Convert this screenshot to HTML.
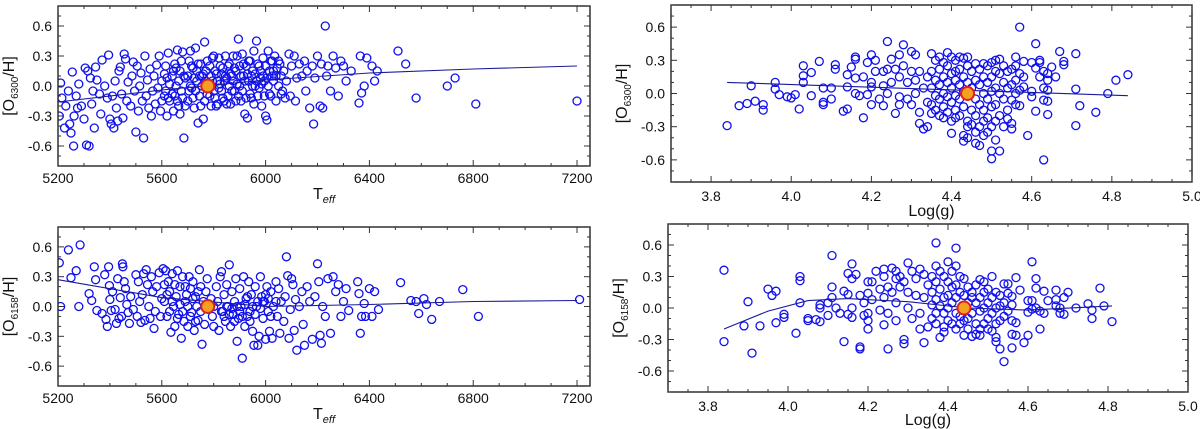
<!DOCTYPE html>
<html><head><meta charset="utf-8"><style>
html,body{margin:0;padding:0;background:#fff;}
svg{display:block;font-family:"Liberation Sans",sans-serif;}
</style></head><body>
<svg id="fig" width="1200" height="429" viewBox="0 0 1200 429" xmlns="http://www.w3.org/2000/svg"></svg>
<script>
// ---- data: rows are [x, y1, y2, ...] ----
const tlData=[[5205,-0.3],[5210,0.03],[5215,-0.12],[5225,-0.42],[5230,-0.2],[5240,-0.05],[5245,-0.38],[5250,-0.47],[5255,0.14],[5260,-0.6],[5262,-0.3],[5270,-0.1],[5275,-0.22],[5280,0.02],[5290,-0.2],[5300,-0.33],[5305,0.18],[5310,-0.59],[5315,0.15],[5320,-0.6],[5325,0.08],[5330,-0.18],[5335,-0.05],[5340,-0.42],[5345,0.19],[5350,0.06],[5360,-0.08],[5365,-0.28],[5370,0.26],[5380,0.0],[5390,-0.12],[5395,0.31],[5400,-0.33],[5405,-0.38],[5410,-0.1],[5415,-0.42],[5420,0.05],[5425,-0.22],[5430,-0.35],[5435,0.15],[5440,0.19],[5445,-0.08],[5450,-0.32],[5455,0.32],[5460,0.27],[5465,-0.15],[5470,0.04],[5480,-0.2],[5485,0.1],[5490,0.24],[5495,-0.05],[5500,-0.46],[5505,0.2],[5510,-0.25],[5515,0.0],[5520,0.13],[5525,-0.15],[5530,-0.52],[5535,0.3],[5540,-0.1],[5545,0.06],[5550,-0.22],[5555,0.17],[5560,-0.3],[5565,-0.05],[5570,0.1],[5575,-0.18],[5580,0.21],[5585,-0.02],[5590,0.3],[5595,-0.25],[5600,0.05,-0.15],[5610,-0.1,0.12],[5615,0.2,-0.05],[5620,-0.3,0.08],[5625,0.33,-0.12],[5630,-0.15,0.02],[5640,0.1,-0.08],[5645,-0.25,0.15],[5650,0.22,-0.1],[5655,0.0,0.18],[5660,0.36,-0.15],[5665,-0.2,0.05],[5670,0.15,-0.28],[5675,-0.05,0.25],[5680,0.34,-0.12],[5685,-0.52,0.1],[5690,0.08,-0.2],[5700,-0.15,0.1],[5705,0.25,-0.05],[5710,0.35,0.0],[5715,-0.02,0.2],[5720,0.18,-0.12],[5725,-0.22,0.08],[5730,0.38,-0.05],[5735,0.05,0.15],[5740,-0.37,0.22],[5745,-0.1,0.1],[5750,0.22,-0.2],[5755,0.1,0.0],[5760,-0.33,0.12],[5765,0.44,-0.15],[5770,0.15,0.05],[5775,-0.08,0.25],[5785,0.2,-0.1],[5790,-0.2,0.1],[5795,0.05,0.28],[5800,0.3,-0.05],[5805,-0.12,0.15],[5810,0.12,-0.2],[5815,-0.18,0.05],[5820,0.28,-0.02],[5825,0.02,0.2],[5830,-0.05,0.12],[5835,0.18,-0.12],[5840,-0.15,0.05],[5845,0.3,0.1],[5850,0.08,-0.18],[5855,-0.1,0.2],[5860,0.22,0.0],[5865,-0.18,0.12],[5870,0.1,-0.05],[5875,0.3,0.05],[5880,-0.05,0.18],[5885,0.15,-0.15],[5890,0.3,0.02],[5895,0.47,-0.1],[5900,0.0,0.2],[5905,-0.15,0.1],[5910,0.32,-0.05],[5915,0.1,0.22],[5920,-0.28,0.05],[5925,0.2,-0.12],[5930,-0.32,0.12],[5935,0.05,0.25],[5940,0.25,-0.08],[5945,-0.12,0.1],[5950,0.15,0.0],[5955,0.35,-0.18],[5960,0.0,0.12],[5965,0.45,0.05],[5970,-0.1,0.22],[5975,0.2,-0.02],[5980,0.08,0.15],[5985,-0.2,0.02],[5990,0.28,0.1],[5995,0.05,-0.1],[6000,-0.3,0.2],[6005,-0.34,0.08],[6010,0.35,0.0],[6015,0.15,-0.08],[6020,-0.1,0.25],[6025,0.25,0.1],[6030,0.05,0.15],[6035,0.3],[6040,-0.15,0.1],[6045,0.18],[6050,0.0,0.25],[6055,0.22],[6060,0.1,-0.08],[6065,-0.05],[6070,0.15],[6075,-0.12],[6080,0.05],[6090,0.32],[6095,-0.1],[6100,0.2],[6110,0.3],[6115,-0.15],[6120,0.08],[6130,0.22],[6140,0.1],[6150,0.25],[6155,-0.05],[6160,0.15],[6170,-0.22],[6180,0.2],[6185,-0.38],[6190,0.08],[6200,0.3],[6210,-0.2],[6215,0.22],[6220,-0.22],[6230,0.6],[6235,0.1],[6240,0.2],[6250,-0.05],[6260,0.3],[6270,0.18],[6280,-0.1],[6290,0.25],[6300,0.2],[6310,0.05],[6330,0.15],[6360,-0.17],[6365,0.3],[6370,-0.07],[6380,0.0],[6390,0.28],[6410,0.2],[6420,0.05],[6430,0.15],[6510,0.35],[6540,0.22],[6580,-0.12],[6700,0.0],[6730,0.08],[6810,-0.18],[7200,-0.15]];
const trData=[[3.84,-0.29],[3.87,-0.11],[3.89,-0.09],[3.90,0.07],[3.91,-0.07],[3.93,-0.1,-0.15],[3.96,0.1,0.04],[3.97,-0.01],[3.99,-0.03],[4.0,-0.04],[4.01,-0.01],[4.02,-0.14],[4.03,0.25,0.16,0.1],[4.05,0.19,-0.02],[4.07,0.29],[4.08,0.05,-0.08,-0.1],[4.10,0.05,-0.05],[4.11,0.26,0.22],[4.13,-0.16],[4.14,0.17,-0.14,0.06],[4.15,0.24],[4.16,0.33,0.31,0.14,0.0],[4.17,-0.02],[4.18,0.15,-0.22],[4.19,0.28,-0.01],[4.20,0.35,0.1,0.06,-0.1],[4.21,0.3,0.2],[4.22,-0.05],[4.23,0.2,0.07,-0.11],[4.24,0.47,0.22,0.0],[4.25,0.31,0.1],[4.26,-0.18,0.22],[4.27,0.35,0.15,-0.03,-0.1],[4.28,0.44,0.25],[4.29,0.1,-0.05],[4.30,0.38,0.2,-0.1],[4.31,0.35,0.12,0.0],[4.32,-0.27,-0.17,0.2],[4.33,0.05,-0.32],[4.34,-0.3,0.15,-0.08],[4.35,0.36,0.2,0.05,-0.1,-0.18],[4.36,0.3,0.12,-0.02,-0.15],[4.37,0.33,0.22,0.08,-0.05,-0.2],[4.38,0.28,0.15,0.0,-0.12,-0.22],[4.39,0.37,0.25,0.1,-0.03,-0.17],[4.40,0.33,0.18,0.05,-0.08,-0.25,-0.36],[4.41,0.3,0.2,0.12,-0.02,-0.15,-0.22],[4.42,0.33,0.22,0.08,-0.05,-0.2],[4.43,0.32,0.15,0.02,-0.12,-0.38,-0.43],[4.44,0.33,0.25,0.1,-0.25,-0.3,-0.4],[4.45,0.2,0.05,-0.15,-0.28],[4.46,0.27,0.12,-0.05,-0.2,-0.35,-0.45],[4.47,0.22,0.08,-0.1,-0.3,-0.47],[4.48,0.27,0.15,0.0,-0.15,-0.25,-0.38],[4.49,0.25,0.1,-0.05,-0.22,-0.35],[4.50,0.28,0.15,0.02,-0.12,-0.3,-0.52,-0.59],[4.51,0.3,0.2,0.05,-0.1,-0.25,-0.42],[4.52,0.31,0.18,0.0,-0.2,-0.52],[4.53,0.25,0.1,-0.05,-0.3],[4.54,0.2,0.05,-0.15,-0.23],[4.55,0.22,0.08,-0.06,-0.27,-0.32],[4.56,0.33,0.25,0.12,0.0,-0.1],[4.57,0.6,0.18,0.03,-0.11],[4.58,0.29,0.15,0.06],[4.59,-0.38],[4.60,0.28,0.02,-0.03],[4.61,0.45,0.23,-0.16],[4.62,0.3,0.15,0.28],[4.63,0.2,0.05,-0.06,-0.6],[4.64,0.18,0.12,0.03,-0.07,-0.19],[4.65,0.24],[4.66,0.15],[4.67,0.38],[4.68,0.29,0.26],[4.71,0.36,0.04,-0.29],[4.72,-0.11],[4.76,-0.17],[4.79,0.0],[4.81,0.12],[4.84,0.17]];
const blData=[[5205,0.44],[5210,0.0],[5240,0.57],[5250,0.29],[5270,0.36],[5280,0.0],[5285,0.62],[5320,0.13],[5330,0.06],[5340,0.4],[5345,0.27],[5350,-0.04],[5370,-0.07],[5380,0.32],[5385,-0.13],[5390,-0.2],[5395,0.4],[5398,0.21],[5400,0.07],[5405,-0.04],[5410,0.15],[5420,-0.03],[5425,-0.17],[5430,0.28],[5435,-0.12],[5440,0.09],[5445,-0.1],[5448,0.43],[5450,0.4],[5455,0.25],[5460,0.18],[5465,0.02],[5470,-0.06],[5475,-0.17],[5480,0.1],[5490,-0.03],[5500,0.32],[5505,-0.1],[5510,0.25],[5515,0.05],[5520,-0.16],[5525,0.12],[5530,0.33],[5535,-0.14],[5540,0.37],[5545,0.22],[5550,0.0],[5555,-0.12],[5560,0.3],[5565,0.15],[5570,-0.22],[5575,-0.05],[5580,0.2],[5590,0.34],[5595,-0.1],[5600,0.08],[5605,0.38],[5610,0.05,0.22],[5615,0.36],[5620,-0.1,0.12],[5625,0.25],[5630,0.15,-0.05],[5635,-0.26],[5640,0.33,0.05],[5645,0.0],[5650,-0.2,0.22],[5655,0.1],[5660,0.36,-0.12],[5665,-0.08],[5670,0.2,0.02],[5675,-0.32],[5680,0.3,-0.05],[5685,-0.15],[5690,0.05,0.2],[5695,0.12],[5700,-0.2,0.0],[5705,0.3],[5710,0.18,-0.1],[5715,-0.06],[5720,0.25,0.08],[5725,-0.24],[5730,0.1,-0.15],[5735,0.0],[5740,-0.14,0.15],[5745,0.37],[5750,0.2,-0.05],[5755,-0.38],[5760,0.05],[5765,-0.18],[5770,0.15],[5775,0.28],[5790,0.08],[5795,-0.1],[5800,-0.2,0.0],[5810,0.2],[5815,0.05],[5820,-0.24],[5825,0.3],[5830,0.35,-0.05],[5835,-0.05],[5840,0.12,-0.1],[5845,-0.15],[5850,0.22,0.0],[5855,0.0],[5860,0.42,-0.08],[5865,-0.2],[5870,0.15,-0.02],[5875,-0.08],[5880,0.05,-0.15],[5885,0.28],[5890,-0.35,0.0],[5895,-0.12],[5900,0.18,-0.05],[5905,0.0],[5910,-0.52,-0.1],[5915,0.3],[5920,-0.2,0.02],[5925,0.08],[5930,-0.1,0.1],[5935,0.25],[5940,-0.05,-0.15],[5945,0.12],[5950,-0.25,0.0],[5955,-0.39],[5960,0.2,-0.08],[5965,0.0],[5970,-0.39,0.05],[5975,-0.3],[5980,0.3,-0.02],[5985,0.1],[5990,-0.12,0.05],[5995,0.05],[6000,-0.33,0.12],[6005,0.2],[6010,-0.05,0.08],[6015,-0.25],[6020,0.15,-0.1],[6025,-0.32],[6030,0.0],[6040,0.25,0.05],[6045,-0.1],[6050,0.18],[6055,-0.27],[6060,0.05],[6070,-0.15],[6075,0.1],[6080,0.5],[6085,0.31],[6090,-0.32],[6095,-0.03],[6100,0.28],[6105,0.22],[6110,-0.24],[6115,0.07],[6120,-0.44],[6130,0.0],[6140,0.15],[6145,-0.18],[6150,-0.39],[6160,0.2],[6170,0.05],[6180,-0.33],[6190,0.1],[6200,0.43],[6205,0.25],[6210,-0.29],[6215,-0.37],[6220,0.0],[6230,-0.1],[6240,0.28],[6250,-0.27],[6260,0.3],[6270,0.15],[6280,0.22],[6290,-0.1],[6300,0.05],[6310,0.18],[6320,-0.04],[6355,0.25],[6360,0.13],[6365,-0.27],[6370,-0.1],[6380,0.03],[6385,-0.1],[6400,0.18],[6410,-0.1],[6420,0.15],[6435,-0.03],[6520,0.24],[6560,0.06],[6580,0.05],[6590,-0.07],[6610,0.08],[6620,0.02],[6640,-0.13],[6670,0.05],[6760,0.17],[6820,-0.1],[7210,0.07]];
const brData=[[3.84,0.36,-0.32],[3.89,-0.17],[3.90,0.06],[3.91,-0.43],[3.93,-0.17],[3.95,0.18],[3.96,0.12],[3.97,0.16,-0.14],[3.99,-0.06,-0.09],[4.02,-0.24],[4.03,0.3,0.26,0.05],[4.05,-0.1,-0.12],[4.07,-0.11],[4.08,0.03,-0.13,0.0],[4.10,0.05,-0.07],[4.11,0.5,0.2,0.1],[4.12,0.0],[4.13,-0.05],[4.14,0.16,-0.32],[4.15,0.33,0.13,-0.06],[4.16,0.42,0.28,0.0,-0.09],[4.17,0.32],[4.18,-0.37,-0.39,0.12],[4.19,0.05,-0.07],[4.20,0.25,0.14,-0.05,-0.12,-0.2],[4.21,0.25,0.08],[4.22,0.35],[4.23,0.18,-0.02],[4.24,0.37,0.3,0.1,-0.16],[4.25,0.2,-0.39,-0.05],[4.26,0.38,0.15],[4.27,0.35,0.28,0.05,-0.12],[4.28,0.3,0.2],[4.29,0.25,-0.3,-0.34],[4.30,0.43,0.15,0.0],[4.31,0.35,-0.1],[4.32,0.28,0.12],[4.33,0.37,-0.05,-0.2],[4.34,0.32,0.1,-0.33],[4.35,0.22,-0.18],[4.36,0.3,0.15,0.03,-0.1],[4.37,0.62,0.4,0.25,0.08,-0.05,-0.15],[4.38,0.35,0.18,0.02,-0.28],[4.39,0.3,0.1,-0.05,-0.18,-0.23],[4.40,0.44,0.25,0.12,0.0,-0.12],[4.41,0.35,0.2,0.05,-0.15],[4.42,0.57,0.4,0.22,0.1,-0.05,-0.2],[4.43,0.3,0.15,-0.08,-0.15],[4.44,0.28,0.12,-0.12,-0.26],[4.45,0.2,0.05,-0.1,-0.2],[4.46,0.15,0.1,-0.05,-0.27],[4.47,0.22,0.05,-0.15,-0.25],[4.48,0.27,0.1,-0.03,-0.2,-0.26],[4.49,0.25,0.15,0.0,-0.15],[4.50,0.18,0.05,-0.1,-0.2],[4.51,0.3,0.1,-0.05,-0.22],[4.52,0.15,0.0,-0.15,-0.32,-0.28],[4.53,0.12,0.02,-0.12,-0.39],[4.54,0.23,0.05,-0.08,-0.51],[4.55,0.23,0.14,-0.03],[4.56,0.11,0.03,-0.12,-0.25,-0.38],[4.57,0.29,-0.14,-0.26],[4.58,0.17],[4.59,-0.33],[4.60,0.07,-0.04,-0.26],[4.61,0.44,0.07,-0.01],[4.62,0.28,0.19,0.0],[4.63,-0.2,-0.03],[4.64,0.16,-0.05],[4.65,0.07],[4.67,0.17,0.08,0.02],[4.68,0.0,-0.05],[4.69,0.1,-0.06],[4.70,0.15],[4.72,0.0],[4.75,0.04],[4.76,-0.02,-0.1],[4.78,0.19],[4.79,0.02],[4.81,-0.13]];
const tlFit=[[5200,-0.16],[5600,-0.04],[6000,0.06],[6400,0.13],[6800,0.17],[7200,0.2]];
const trFit=[[3.84,0.1],[4.84,-0.02]];
const blFit=[[5200,0.27],[5600,0.09],[6000,0.0],[6400,0.02],[6800,0.05],[7200,0.06]];
const brFit=[[3.84,-0.2],[3.95,-0.03],[4.05,0.07],[4.15,0.09],[4.3,0.06],[4.45,0.0],[4.6,-0.02],[4.81,0.02]];
const teffTicks=[5200,5600,6000,6400,6800,7200];
const loggTicks=[3.8,4.0,4.2,4.4,4.6,4.8,5.0];
const yTicks=[0.6,0.3,0.0,-0.3,-0.6];
const sunTeff=5777, sunLogg=4.44, sunO=0.0;

const NS="http://www.w3.org/2000/svg";
const svg=document.getElementById('fig');
function mk(tag,attrs,parent){const e=document.createElementNS(NS,tag);for(const k in attrs)e.setAttribute(k,attrs[k]);(parent||svg).appendChild(e);return e;}

function panel(cfg){
  const g=mk('g',{});
  
  
  const sx=v=>cfg.L+(v-cfg.x0)/(cfg.x1-cfg.x0)*(cfg.R-cfg.L);
  const sy=v=>cfg.B-(v-(-0.8))/1.6*(cfg.B-cfg.T);
  const cid='c'+cfg.name;
  const cp=mk('clipPath',{id:cid},g);mk('rect',{x:cfg.L,y:cfg.T,width:cfg.R-cfg.L,height:cfg.B-cfg.T},cp);
  const pts=mk('g',{'clip-path':'url(#'+cid+')'},g);
  
  
  cfg.data.forEach(row=>{for(let i=1;i<row.length;i++){
    const c=mk('circle',{cx:sx(row[0]).toFixed(1),cy:sy(row[i]).toFixed(1),r:4,fill:'none',stroke:'#1010ee','stroke-width':1.3},pts);
    
    
  }});
  const fit=mk('polyline',{points:cfg.fit.map(p=>sx(p[0]).toFixed(1)+','+sy(p[1]).toFixed(1)).join(' '),fill:'none',stroke:'#1a1a99','stroke-width':1.1},pts);
  
  
  const sun=mk('circle',{cx:sx(cfg.sun),cy:sy(sunO),r:6.5,fill:'#f5a020',stroke:'#dd2222','stroke-width':2},pts);
  
  
  const fr=mk('rect',{x:cfg.L,y:cfg.T,width:cfg.R-cfg.L,height:cfg.B-cfg.T,fill:'none',stroke:'#222','stroke-width':1.4},g);
  
  
  for(let v=cfg.x0;v<=cfg.x1+1e-9;v+=cfg.minor){
    const X=sx(v);const maj=cfg.ticks.some(t=>Math.abs(t-v)<1e-6);const len=maj?6:3;
    mk('line',{x1:X,y1:cfg.B,x2:X,y2:cfg.B-len,stroke:'#333','stroke-width':1},g);
    mk('line',{x1:X,y1:cfg.T,x2:X,y2:cfg.T+len,stroke:'#333','stroke-width':1},g);
  }
  cfg.ticks.forEach(t=>{
    const tx=mk('text',{x:sx(t),y:cfg.B+cfg.lo,'text-anchor':'middle','font-size':14,fill:'#111'},g);
    tx.textContent=(cfg.x1<10)?t.toFixed(1):String(t);
    
    
  });
  for(let v=-0.8;v<=0.8001;v+=0.1){
    const Y=sy(v);const maj=yTicks.some(t=>Math.abs(t-v)<1e-6);const len=maj?6:3;
    mk('line',{x1:cfg.L,y1:Y,x2:cfg.L+len,y2:Y,stroke:'#333','stroke-width':1},g);
    mk('line',{x1:cfg.R,y1:Y,x2:cfg.R-len,y2:Y,stroke:'#333','stroke-width':1},g);
  }
  yTicks.forEach(t=>{
    const tx=mk('text',{x:cfg.L-6,y:sy(t)+5,'text-anchor':'end','font-size':14,fill:'#111'},g);
    tx.textContent=t.toFixed(1);
    
    
  });
  const xl=mk('text',{x:(cfg.L+cfg.R)/2,y:cfg.B+cfg.to,'text-anchor':'middle','font-size':16,fill:'#111'},g);
  
  
  if(cfg.xlab==='teff'){xl.innerHTML='T<tspan font-size="11" font-style="italic" dy="4">eff</tspan>';}
  else xl.textContent='Log(g)';
  const cy=(cfg.T+cfg.B)/2, cx=cfg.L-44;
  const yl=mk('text',{x:cx,y:cy,'text-anchor':'middle','font-size':16,fill:'#111',transform:'rotate(-90 '+cx+' '+cy+')'},g);
  
  
  yl.innerHTML='[O<tspan font-size="10" dy="4">'+cfg.line+'</tspan><tspan dy="-4">/H]</tspan>';
}
panel({name:'panel-teff-o6300',L:58,R:590,T:6,B:166,x0:5200,x1:7250,minor:100,ticks:teffTicks,data:tlData,fit:tlFit,sun:sunTeff,xlab:'teff',line:'6300',lo:17,to:33});
panel({name:'panel-logg-o6300',L:671,R:1192,T:5,B:182,x0:3.7,x1:5.0,minor:0.05,ticks:loggTicks,data:trData,fit:trFit,sun:sunLogg,xlab:'logg',line:'6300',lo:19,to:34});
panel({name:'panel-teff-o6158',L:58,R:590,T:227,B:386,x0:5200,x1:7250,minor:100,ticks:teffTicks,data:blData,fit:blFit,sun:sunTeff,xlab:'teff',line:'6158',lo:17,to:33});
panel({name:'panel-logg-o6158',L:668,R:1188,T:224,B:392,x0:3.7,x1:5.0,minor:0.05,ticks:loggTicks,data:brData,fit:brFit,sun:sunLogg,xlab:'logg',line:'6158',lo:19,to:33});
</script>
</body></html>
